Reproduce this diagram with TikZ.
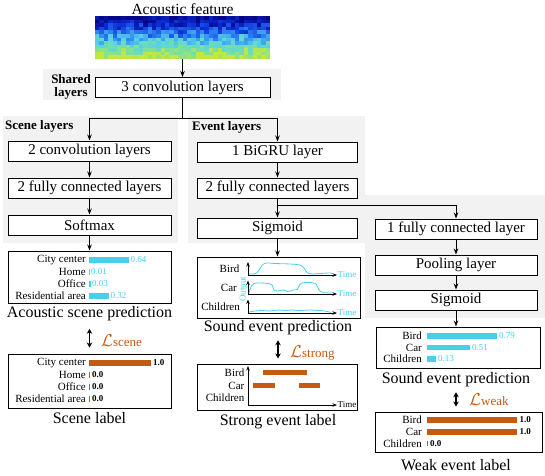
\documentclass[tikz,border=0pt]{standalone}
\usepackage{fontspec}
\setmainfont{Liberation Serif}
\usetikzlibrary{arrows.meta}
\definecolor{bgg}{RGB}{242,242,242}
\definecolor{cy}{RGB}{72,208,235}
\definecolor{org}{RGB}{197,90,17}
\definecolor{jc0}{RGB}{5,5,135}
\definecolor{jc1}{RGB}{10,45,215}
\definecolor{jc2}{RGB}{40,120,240}
\definecolor{jc3}{RGB}{85,210,235}
\definecolor{jc4}{RGB}{115,222,170}
\definecolor{jc5}{RGB}{195,232,60}
\begin{document}
\begin{tikzpicture}[x=1pt,y=-1pt,
  box/.style={draw, fill=white, line width=1pt, inner sep=0pt, minimum height=20pt, font=\fontsize{15}{17}\selectfont},
  frm/.style={draw, line width=1pt, inner sep=0pt},
  arr/.style={line width=1pt, -{Stealth[length=6pt,width=4.5pt]}},
  ax/.style={line width=0.9pt, -{Stealth[length=4.5pt,width=3.5pt]}},
  darr/.style={line width=1.6pt, {Stealth[length=5pt,width=5.5pt]}-{Stealth[length=5pt,width=5.5pt]}},
  grp/.style={font=\bfseries\fontsize{13}{12.5}\selectfont, inner sep=0pt},
  capt/.style={font=\fontsize{16}{18}\selectfont},
  lab/.style={font=\fontsize{11}{12}\selectfont, anchor=east, inner sep=0pt},
  val/.style={font=\fontsize{9}{10}\selectfont, anchor=west, inner sep=0pt, text=cy},
  bval/.style={font=\bfseries\fontsize{9}{10}\selectfont, anchor=west, inner sep=0pt},
  tm/.style={font=\fontsize{9}{10}\selectfont, anchor=west, inner sep=0.5pt},
  loss/.style={text=org, anchor=base west, inner sep=0pt},
  curve/.style={cy, line width=0.8pt}
]
\useasboundingbox (0,0) rectangle (545,475);

% grey group backgrounds
\fill[bgg] (43,69) rectangle (281,100);
\fill[bgg] (3,116) rectangle (178,243);
\fill[bgg] (188,116) rectangle (365,243);
\fill[bgg] (365,195) rectangle (545,318);

% acoustic feature
\node[font=\fontsize{15.5}{17}\selectfont] (acf) at (182.5,9) {Acoustic feature};
\pgfmathsetseed{11}
\foreach \r in {0,...,11}{
  \foreach \c in {0,...,39}{
    \pgfmathsetmacro{\lv}{max(0,min(4.999,\r/11*5+0.75*rand))}
    \pgfmathtruncatemacro{\li}{floor(\lv)}
    \pgfmathtruncatemacro{\lj}{\li+1}
    \pgfmathtruncatemacro{\pc}{100-100*(\lv-\li)}
    \fill[fill=jc\li!\pc!jc\lj] (95+\c*4.375,16+\r*3.583) rectangle ++(4.4,3.61);
  }
}
\node[inner sep=0pt, minimum width=175pt, minimum height=43pt] (spec) at (182.5,37.5) {};

% shared
\node[grp, align=center] (sharedt) at (71,87) {Shared\\layers};
\node[box, minimum width=175pt] (shared) at (182.5,87.5) {3 convolution layers};
\draw[arr] (spec.south) -- (shared.north);

% scene branch
\node[grp, anchor=west] (scenet) at (5,126) {Scene layers};
\node[box, minimum width=163pt] (sc1) at (89.5,151) {2 convolution layers};
\node[box, minimum width=163pt] (sc2) at (89.5,188) {2 fully connected layers};
\node[box, minimum width=163pt] (sc3) at (89.5,225) {Softmax};

% event branch
\node[grp, anchor=west] (eventt) at (192,127) {Event layers};
\node[box, minimum width=160pt] (ev1) at (277.5,152) {1 BiGRU layer};
\node[box, minimum width=160pt] (ev2) at (277.5,188) {2 fully connected layers};
\node[box, minimum width=160pt] (ev3) at (277.5,228) {Sigmoid};
\node[box, minimum width=162pt] (r1) at (456,229) {1 fully connected layer};
\node[box, minimum width=162pt] (r2) at (456,265) {Pooling layer};
\node[box, minimum width=162pt] (r3) at (456,300) {Sigmoid};

\draw[arr] (shared.south) -- ++(0,20.5) -| (sc1.north);
\draw[arr] (shared.south) -- ++(0,20.5) -| (ev1.north);
\draw[arr] (sc1.south) -- (sc2.north);
\draw[arr] (sc2.south) -- (sc3.north);
\draw[arr] (ev1.south) -- (ev2.north);
\draw[arr] (ev2.south) -- (ev3.north);
\draw[arr] (ev2.south) -- ++(0,7) -| (r1.north);
\draw[arr] (r1.south) -- (r2.north);
\draw[arr] (r2.south) -- (r3.north);

% ---------- acoustic scene prediction
\node[frm, minimum width=163pt, minimum height=52pt] (scp) at (89.5,277) {};
\draw[arr] (sc3.south) -- (sc3.south |- scp.north);
\node[lab] (scp1) at (86,260) {City center};
\node[lab] (scp2) at (86,272) {Home};
\node[lab] (scp3) at (86,284) {Office};
\node[lab] (scp4) at (86,296) {Residential area};
\fill[cy] (88.5,257.25) rectangle ++(40,5.5);
\fill[cy] (88.5,269.25) rectangle ++(1,5.5);
\fill[cy] (88.5,281.25) rectangle ++(2,5.5);
\fill[cy] (88.5,293.25) rectangle ++(20,5.5);
\node[val] (scv1) at (130.5,260) {0.64};
\node[val] (scv2) at (91,272) {0.01};
\node[val] (scv3) at (92,284) {0.03};
\node[val] (scv4) at (110.5,296) {0.32};
\node[capt] (scpc) at (89.5,314) {Acoustic scene prediction};

% scene label
\node[frm, minimum width=163pt, minimum height=54pt] (scl) at (89.5,381) {};
\draw[darr, shorten <=4pt, shorten >=6pt] (scpc.south) -- (scpc.south |- scl.north);
\node[loss] (lsc) at (101,346) {\fontsize{18}{20}\selectfont$\mathcal{L}$\fontsize{13}{15}\selectfont scene};
\node[lab] (scl1) at (86,363) {City center};
\node[lab] (scl2) at (86,375) {Home};
\node[lab] (scl3) at (86,387) {Office};
\node[lab] (scl4) at (86,399) {Residential area};
\fill[org] (89,360.25) rectangle ++(62,5.5);
\fill[org] (89,372.25) rectangle ++(1,5.5);
\fill[org] (89,384.25) rectangle ++(1,5.5);
\fill[org] (89,396.25) rectangle ++(1,5.5);
\node[bval] (sclv1) at (153,363) {1.0};
\node[bval] (sclv2) at (92,375) {0.0};
\node[bval] (sclv3) at (92,387) {0.0};
\node[bval] (sclv4) at (92,399) {0.0};
\node[capt] (sclc) at (89.5,418) {Scene label};

% ---------- sound event prediction (strong)
\node[frm, minimum width=163pt, minimum height=61pt] (ep) at (278.5,287.5) {};
\draw[arr] (ev3.south) -- (ev3.south |- ep.north);
\node[lab] (ep1) at (239.5,269) {Bird};
\node[lab] (ep2) at (237,288) {Car};
\node[lab] (ep3) at (240,307) {Children};
\node[font=\fontsize{9}{10}\selectfont, text=cy, rotate=90, inner sep=0pt] (epo) at (243.5,289) {Output};
\draw[ax] (248,275) -- (248,262);
\draw[ax] (248,275) -- (337,275);
\node[tm, text=cy] (ept1) at (337,275) {Time};
\draw[ax] (248,294) -- (248,280.5);
\draw[ax] (248,294) -- (337,294);
\node[tm, text=cy] (ept2) at (337,294) {Time};
\draw[ax] (248,313) -- (248,299.5);
\draw[ax] (248,313) -- (337,313);
\node[tm, text=cy] (ept3) at (337,313) {Time};
\draw[curve] plot[smooth, tension=0.5] coordinates {(249,274) (256,273.5) (259,270) (262,265.5) (266,263) (275,263.5) (290,264) (300,265) (304,268) (307,272.5) (312,274) (320,273.5) (330,273) (334,274)};
\draw[curve] plot[smooth, tension=0.5] coordinates {(249,293) (251,287) (254,283.5) (260,283) (268,283.5) (272,285) (274,290) (278,291) (283,290) (288,291.5) (293,290) (297,289.5) (299,286) (302,283) (310,282.5) (316,284) (319,290) (323,292.5) (332,293)};
\draw[curve] plot[smooth, tension=0.5] coordinates {(249,312) (255,311) (262,310.5) (270,311) (278,310) (285,310.5) (292,310) (300,310.5) (310,310) (318,310.5) (325,311) (331,312.5)};
\node[capt] (epc) at (278,328) {Sound event prediction};

% strong label
\node[frm, minimum width=160pt, minimum height=46pt] (stl) at (277,387) {};
\draw[darr, shorten <=1.5pt, shorten >=5pt] (epc.south) -- (epc.south |- stl.north);
\node[loss] (lst) at (290,357) {\fontsize{18}{20}\selectfont$\mathcal{L}$\fontsize{13}{15}\selectfont strong};
\node[lab] (stl1) at (244.5,373) {Bird};
\node[lab] (stl2) at (244.5,385.5) {Car};
\node[lab] (stl3) at (244.5,398) {Children};
\draw[ax] (248,405) -- (248,366);
\draw[ax] (248,405) -- (337,405);
\node[tm] (stlt) at (337,405) {Time};
\fill[org] (263,369.75) rectangle (307,375.25);
\fill[org] (253,382.5) rectangle (275,388);
\fill[org] (299,382.5) rectangle (320,388);
\node[capt] (stlc) at (278,422) {Strong event label};

% ---------- sound event prediction (weak)
\node[frm, minimum width=164pt, minimum height=41pt] (rp) at (458,347.5) {};
\draw[arr] (r3.south) -- (r3.south |- rp.north);
\node[lab] (rp1) at (422,336) {Bird};
\node[lab] (rp2) at (422,347.5) {Car};
\node[lab] (rp3) at (422,359) {Children};
\fill[cy] (427,333.25) rectangle ++(70,5.5);
\fill[cy] (427,344.75) rectangle ++(43,5.5);
\fill[cy] (427,356.25) rectangle ++(9,5.5);
\node[val] (rpv1) at (499,336) {0.79};
\node[val] (rpv2) at (472,347.5) {0.51};
\node[val] (rpv3) at (438,359) {0.13};
\node[capt] (rpc) at (456,380) {Sound event prediction};

% weak label
\node[frm, minimum width=167pt, minimum height=40pt] (wl) at (458.5,432) {};
\draw[darr, shorten <=1.5pt, shorten >=5pt] (rpc.south) -- (rpc.south |- wl.north);
\node[loss] (lwk) at (469,405) {\fontsize{18}{20}\selectfont$\mathcal{L}$\fontsize{13}{15}\selectfont weak};
\node[lab] (wl1) at (422,420) {Bird};
\node[lab] (wl2) at (422,432) {Car};
\node[lab] (wl3) at (422,443.5) {Children};
\fill[org] (427,417.25) rectangle ++(90,5.5);
\fill[org] (427,429.25) rectangle ++(90,5.5);
\fill[org] (427,440.75) rectangle ++(1,5.5);
\node[bval] (wlv1) at (519.5,420) {1.0};
\node[bval] (wlv2) at (519.5,432) {1.0};
\node[bval] (wlv3) at (430,443.5) {0.0};
\node[capt] (wlc) at (456,465) {Weak event label};
\end{tikzpicture}
\end{document}
